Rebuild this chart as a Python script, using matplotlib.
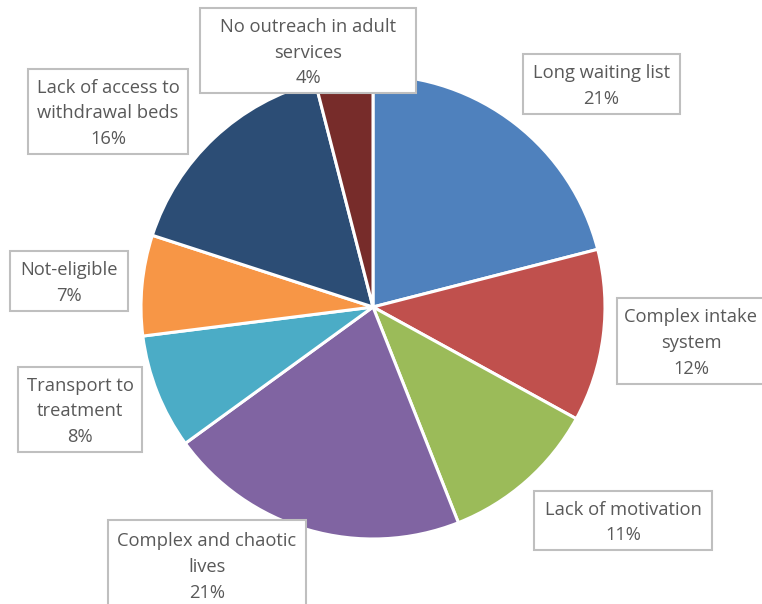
import matplotlib
matplotlib.use("Agg")
import matplotlib.pyplot as plt
from matplotlib.patches import Rectangle
from matplotlib import font_manager

categories = ["Long waiting list", "Complex intake\nsystem", "Lack of motivation",
              "Complex and chaotic\nlives", "Transport to\ntreatment", "Not-eligible",
              "Lack of access to\nwithdrawal beds", "No outreach in adult\nservices"]
values = [21, 12, 11, 21, 8, 7, 16, 4]
colors = ["#4F81BD", "#C0504D", "#9BBB59", "#8064A2", "#4BACC6", "#F79646", "#2C4D75", "#772C2A"]

# label box layout in pixel coords (left, top, right, bottom)
boxes = [(523, 54, 680, 114), (617, 298, 765, 384), (534, 491, 712, 550),
         (108, 520, 306, 610), (18, 367, 142, 452), (10, 251, 128, 311),
         (28, 69, 188, 154), (200, 8, 416, 93)]

avail = {f.name for f in font_manager.fontManager.ttflist}
fam = "DejaVu Sans"
for cand in ["Liberation Sans Narrow", "Open Sans", "Lato", "Liberation Sans"]:
    if cand in avail:
        fam = cand
        break
plt.rcParams["font.family"] = [fam, "DejaVu Sans"]

W, H = 762, 604
fig = plt.figure(figsize=(W / 100, H / 100), dpi=100)
ax = fig.add_axes([0, 0, 1, 1])

cx, cy, r = 373, H - 307, 232
ax.pie(values, colors=colors, startangle=90, counterclock=False, radius=r, center=(cx, cy),
       wedgeprops=dict(edgecolor="white", linewidth=2.2), frame=True)
ax.set_xlim(0, W)
ax.set_ylim(0, H)
ax.set_aspect("equal")
ax.axis("off")

for cat, v, (l, t, rr, b) in zip(categories, values, boxes):
    ax.add_patch(Rectangle((l, H - b), rr - l, b - t, facecolor="white", edgecolor="#BFBFBF",
                           linewidth=1.5, zorder=5, clip_on=False))
    ax.text((l + rr) / 2, H - (t + b) / 2 - 2, f"{cat}\n{v}%", ha="center", va="center",
            fontsize=13.2, color="#595959", linespacing=1.56, zorder=6)

fig.savefig("out.png", dpi=100)
